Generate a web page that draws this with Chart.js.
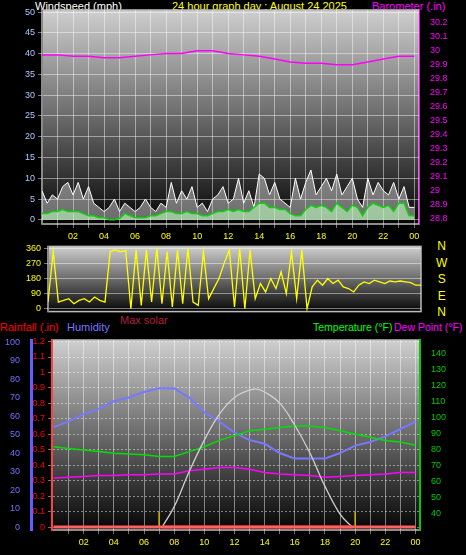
<!DOCTYPE html>
<html><head><meta charset="utf-8">
<script src="https://cdn.jsdelivr.net/npm/chart.js@4"></script>
<style>
body{margin:0;background:#000;width:466px;height:555px;overflow:hidden;position:relative;font-family:"Liberation Sans",Arial,sans-serif}
canvas{position:absolute}
.t{position:absolute;font-size:11px;white-space:nowrap;line-height:12px}
</style></head><body>
<div class="t" style="left:35px;top:0;color:#fff">Windspeed (mph)</div>
<div class="t" style="left:172px;top:0;color:#ff0">24 hour graph day : August 24 2025</div>
<div class="t" style="left:372px;top:0;color:#f0f">Barometer (.in)</div>
<div class="t" style="left:436px;top:238px;color:#ff0;font-size:12px;line-height:16.5px;text-align:center">N<br>W<br>S<br>E<br>N</div>
<div class="t" style="left:0;top:321px;color:#f00">Rainfall (.in)</div>
<div class="t" style="left:67px;top:321px;color:#77f">Humidity</div>
<div class="t" style="left:120px;top:314px;color:#b0203a">Max solar</div>
<div class="t" style="left:313px;top:321px;color:#0f0;font-size:10.5px">Temperature (°F)</div>
<div class="t" style="left:394px;top:321px;color:#f0f;font-size:10.5px">Dew Point (°F)</div>
<canvas id="c1" style="left:0;top:0" width="466" height="244"></canvas>
<canvas id="c2" style="left:0;top:238px" width="466" height="82"></canvas>
<canvas id="c3" style="left:0;top:330px" width="466" height="225"></canvas>
<script>
const hours20 = Array.from({length:73},(_,i)=>i/3);
const hoursH = Array.from({length:25},(_,i)=>i);
const windGust = [7,4,6,5,8,9,6, 9,5,8,4,3,2, 3,5,2,4,3,2, 3,5,3,2,4,3, 9,4,7,5,8,3, 4,2,5,6,8,4, 5,10,4,7,3,11, 10,6,9,5,4,3, 10,5,9,12,6,8, 10,7,11,6,8,10, 5,3,10,6,9,7, 6,9,5,8,3,3];
const windAvg = [1.5,1.5,2,2,2.5,2,2, 2,1.5,1,1,0.5,0.5, 0,0,0.3,1.5,1,0.5, 0.5,0.5,1,1,1.5,2, 2,1.5,1.5,2,1.5,1.5, 1,1,1.5,2,2,2.5, 2,2.5,2,2,3,4, 4,3,3,2.5,2.5,1.5, 1,1,2.5,3.5,3,3.5, 3,2,4,3,2,3.5, 3,1,3,4,3.5,3, 3.5,2,4,4,1,1];
const barometer = [29.97,29.97,29.96,29.96,29.95,29.95,29.96,29.97,29.98,29.98,30.0,30.0,29.98,29.97,29.96,29.94,29.92,29.91,29.91,29.90,29.90,29.92,29.94,29.96,29.96];
const windDir = [40,340,40,50,60,30,50, 60,40,70,50,40,340, 350,340,345,0,350,20, 350,40,360,30,340,10, 350,30,360,40,20,340, 60,120,180,270,350,10, 360,0,350,60,150,100, 180,120,220,90,340,60, 350,0,130,170,140,180, 150,170,130,120,100,140, 160,150,170,160,150,165, 160,165,160,155,140,140];
const temperature = [82,81,80,79,78,77.5,77,76,76,79,82,86,89,92,93,94,95,95,94,92,90,88,86,85,83];
const dewPoint = [62.5,63,63.5,64,64,64.5,64.5,65,65,67,68,69,69,68,66,65,64.5,64,63,63.5,64,64.5,65,66,66];
const humidity = [54,57,61,64,68,70,73,75,75,70,62,57,51,47,45,40,37,37,37,40,44,46,49,53,57];
const solarHours = [7.2,8,9,10,11,12,13,13.5,14,15,16,17,18,19,19.8];
const solar = [0,11,30,47,61,70,74,74.5,73,67,55,40,22,7,0];
const rainHours = [0,24];
const rain = [0,0];
const windTicks = [0,5,10,15,20,25,30,35,40,45,50];
const baroTicks = [28.8,28.9,29,29.1,29.2,29.3,29.4,29.5,29.6,29.7,29.8,29.9,30,30.1,30.2];
const dirTicks = [0,90,180,270,360];
const humTicks = [0,10,20,30,40,50,60,70,80,90,100];
const rainTicks = [0,0.1,0.2,0.3,0.4,0.5,0.6,0.7,0.8,0.9,1,1.1,1.2];
const tempTicks = [40,50,60,70,80,90,100,110,120,130,140];
const xHourTicks = [1,2,3,4,5,6,7,8,9,10,11,12,13,14,15,16,17,18,19,20,21,22,23,24];

const pts=(xs,ys)=>ys.map((y,i)=>({x:xs[i],y}));
const F={family:"Liberation Sans",size:9};
const bg={id:'bg',beforeDraw(c){const a=c.chartArea,x=c.ctx;const g=x.createLinearGradient(0,a.top,0,a.bottom);g.addColorStop(0,'#cfcfcf');g.addColorStop(0.5,'#6a6a6a');g.addColorStop(1,'#050505');x.save();x.fillStyle=g;x.fillRect(a.left,a.top,a.width,a.height);x.strokeStyle='#bbb';x.lineWidth=1.5;x.strokeRect(a.left,a.top,a.width,a.height);x.restore();}};
const grid={color:'rgba(255,255,255,0.45)',lineWidth:1,tickLength:4,drawTicks:true};
function fixed(v){return s=>{s.ticks=v.map(t=>({value:t}));};}
function w(n){return s=>{s.width=n;};}
function h(n){return s=>{s.height=n;};}
const xFmt=v=>(v%2===0)?String(v%24).padStart(2,'0'):'';
Chart.defaults.animation=false;
Chart.defaults.plugins.legend.display=false;
Chart.defaults.plugins.tooltip.enabled=false;
Chart.defaults.responsive=false;
Chart.defaults.elements.point.radius=0;
Chart.defaults.elements.line.borderWidth=1;

new Chart(document.getElementById('c1'),{type:'line',plugins:[bg],
data:{datasets:[
{data:pts(hoursH,barometer),borderColor:'#ff00ff',borderWidth:1.5,yAxisID:'yb'},
{data:pts(hours20,windAvg),borderColor:'#10d010',borderWidth:1.5,fill:'origin',backgroundColor:'rgba(190,255,190,0.6)',yAxisID:'y'},
{data:pts(hours20,windGust),borderColor:'#ffffff',fill:'origin',backgroundColor:'rgba(230,230,230,0.45)',yAxisID:'y'}]},
options:{layout:{padding:{top:10}},scales:{
x:{type:'linear',min:0,max:24.3,afterBuildTicks:fixed(xHourTicks),afterFit:h(20),grid:{...grid,borderDash:[1,2]},border:{display:false},ticks:{color:'#ff0',font:F,callback:xFmt,maxRotation:0,autoSkip:false}},
y:{min:-1,max:50.5,afterBuildTicks:fixed(windTicks),afterFit:w(42),grid:{...grid},border:{color:'#888'},ticks:{color:'#b0c8ff',font:F}},
yb:{position:'right',min:28.764,max:30.29,afterBuildTicks:fixed(baroTicks),afterFit:w(47),grid:{display:false},border:{color:'#f0f'},ticks:{color:'#f0f',font:F,callback:v=>String(Math.round(v*10)/10)}}}}});

new Chart(document.getElementById('c2'),{type:'line',plugins:[bg],
data:{datasets:[{data:pts(hours20,windDir),borderColor:'#ffff00',borderWidth:1.3}]},
options:{layout:{padding:{top:6,bottom:7}},scales:{
x:{type:'linear',min:0,max:24,display:false},
y:{min:-17,max:371,afterBuildTicks:fixed(dirTicks),afterFit:w(48),grid:{...grid},border:{color:'#888'},ticks:{color:'#ff0',font:F}},
yr:{position:'right',min:0,max:1,afterFit:w(45),grid:{display:false},border:{display:false},ticks:{display:false}}}}});

new Chart(document.getElementById('c3'),{type:'line',plugins:[bg],
data:{datasets:[
{data:pts(rainHours,rain),borderColor:'#ff6060',borderWidth:3,yAxisID:'yr'},
{data:[{x:7.2,y:0},{x:19.8,y:0}],borderColor:'#ff0000',borderWidth:3,yAxisID:'yr'},
{data:[{x:7,y:0},{x:7,y:0.1}],borderColor:'#c8b400',borderWidth:1.5,yAxisID:'yr'},
{data:[{x:20,y:0},{x:20,y:0.1}],borderColor:'#c8b400',borderWidth:1.5,yAxisID:'yr'},
{data:pts(solarHours,solar),borderColor:'#d0d0d0',borderWidth:1.3,tension:0.4,yAxisID:'yh'},
{data:pts(hoursH,dewPoint),borderColor:'#ff00ff',borderWidth:1.5,yAxisID:'yt'},
{data:pts(hoursH,temperature),borderColor:'#00e000',borderWidth:1.5,yAxisID:'yt'},
{data:pts(hoursH,humidity),borderColor:'#7878ff',borderWidth:2,yAxisID:'yh'}]},
options:{layout:{padding:{top:10}},scales:{
x:{type:'linear',min:-0.1,max:24.3,afterBuildTicks:fixed(xHourTicks),afterFit:h(25),grid:{...grid},border:{display:false},ticks:{color:'#ff0',font:F,callback:xFmt,maxRotation:0,autoSkip:false}},
yr:{position:'left',min:-0.019,max:1.21,afterBuildTicks:fixed(rainTicks),afterFit:w(21),grid:{...grid},border:{color:'#ff4040',width:2,dash:[2,2]},ticks:{color:'#f00',font:F,callback:v=>String(Math.round(v*10)/10)}},
yh:{position:'left',min:-1.6,max:101.1,afterBuildTicks:fixed(humTicks),afterFit:w(31),grid:{display:false},border:{color:'#6060ff',width:3},ticks:{color:'#7070ff',font:F}},
yt:{position:'right',min:30,max:148.75,afterBuildTicks:fixed(tempTicks),afterFit:w(46),grid:{display:false},border:{color:'#0c0',width:2},ticks:{color:'#0c0',font:F}}}}});
</script></body></html>
